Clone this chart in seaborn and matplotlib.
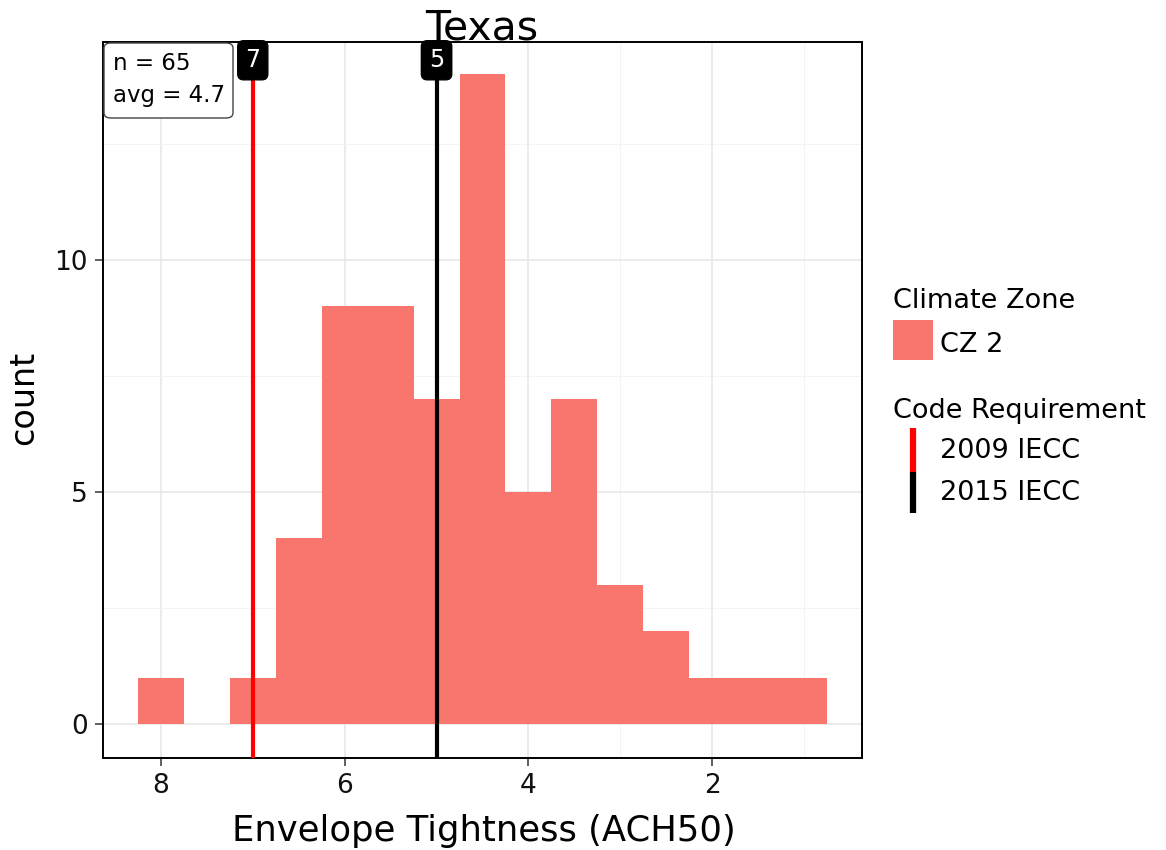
import matplotlib
matplotlib.use("Agg")

import pandas as pd
import matplotlib.pyplot as plt
import matplotlib.transforms as mtransforms
from matplotlib.patches import Rectangle, FancyBboxPatch
from matplotlib.lines import Line2D
import seaborn as sns

# histogram (bin centres, width 0.5)
bin_centers = [8.0, 7.5, 7.0, 6.5, 6.0, 5.5, 5.0, 4.5, 4.0, 3.5, 3.0, 2.5, 2.0, 1.5, 1.0]
counts = [1, 0, 1, 4, 9, 9, 7, 14, 5, 7, 3, 2, 1, 1, 1]
bin_width = 0.5

code_values = [7, 5]
code_labels = ["2009 IECC", "2015 IECC"]
code_colors = ["#FF0000", "#000000"]
zone_label = "CZ 2"
zone_color = "#F8766D"
n_homes = 65
avg_ach = 4.7

W, H = 1166, 850


def px(x, y):
    return x / W, 1 - y / H


sns.set_theme(style="white")
plt.rcParams["font.family"] = ["DejaVu Sans"]
plt.rcParams["text.color"] = "black"

fig = plt.figure(figsize=(W / 100, H / 100), dpi=100)
left, top = px(103, 42)
right, bottom = px(862, 758)
ax = fig.add_axes([left, bottom, right - left, top - bottom])

df = pd.DataFrame({"ach50": bin_centers, "count": counts})
lo = min(bin_centers) - bin_width / 2
hi = max(bin_centers) + bin_width / 2
sns.histplot(data=df, x="ach50", weights="count", binwidth=bin_width, binrange=(lo, hi),
             color=zone_color, alpha=1, linewidth=0, ax=ax, zorder=2)

ax.set_xlim(8.63, 0.37)
ax.set_ylim(-0.732, 14.69)
ax.set_xticks([8, 6, 4, 2])
ax.set_yticks([0, 5, 10])
ax.set_xticks([7, 5, 3, 1], minor=True)
ax.set_yticks([2.5, 7.5, 12.5], minor=True)
ax.grid(which="major", color="#E6E6E6", linewidth=1.1)
ax.grid(which="minor", color="#F2F2F2", linewidth=0.6)
ax.set_axisbelow(True)
ax.tick_params(which="major", length=6, width=1.1, color="#333333", labelsize=19,
               labelcolor="#111111", pad=5, bottom=True, left=True)
ax.tick_params(which="minor", length=0)
for s in ax.spines.values():
    s.set_color("black")
    s.set_linewidth(1.4)
ax.set_xlabel("")
ax.set_ylabel("")

# code requirement lines with value tags
trans = mtransforms.blended_transform_factory(ax.transData, ax.transAxes)
for v, c in zip(code_values, code_colors):
    ax.axvline(v, color=c, linewidth=3, zorder=3)
    ax.text(v, 0.9745, str(v), transform=trans, ha="center", va="center", color="white",
            fontsize=17, zorder=5,
            bbox=dict(boxstyle="round,pad=0.32,rounding_size=0.25", fc="black", ec="black"))

# n / avg box in the top left corner
bx0, by0 = px(104, 118)
bx1, by1 = px(233, 43)
fig.add_artist(FancyBboxPatch((bx0, by0), bx1 - bx0, by1 - by0, transform=fig.transFigure,
                              boxstyle="round,pad=0,rounding_size=0.006",
                              fc="white", ec="#444444", lw=1, zorder=4))
fig.text(*px(113, 70), f"n = {n_homes}", fontsize=16.5, ha="left", va="baseline", zorder=5)
fig.text(*px(113, 102), f"avg = {avg_ach}", fontsize=16.5, ha="left", va="baseline", zorder=5)

fig.text(*px(482, 40), "Texas", fontsize=29.5, ha="center", va="baseline")
fig.text(*px(484, 841), "Envelope Tightness (ACH50)", fontsize=25.5, ha="center", va="baseline")
fig.text(*px(24, 398), "count", fontsize=24, ha="center", va="center", rotation=90)

# legend drawn by hand
fig.text(*px(893, 308), "Climate Zone", fontsize=19.5, ha="left", va="baseline")
x0, y0 = px(893, 360)
x1, y1 = px(933, 320)
fig.add_artist(Rectangle((x0, y0), x1 - x0, y1 - y0, transform=fig.transFigure,
                         fc=zone_color, ec="none"))
fig.text(*px(940, 352), zone_label, fontsize=19.5, ha="left", va="baseline")

fig.text(*px(893, 418), "Code Requirement", fontsize=19.5, ha="left", va="baseline")
key_spans = [(428, 472), (472, 513)]
label_y = [458, 500]
for (ya, yb), c, lab, ly in zip(key_spans, code_colors, code_labels, label_y):
    xa, ya_f = px(913, ya)
    _, yb_f = px(913, yb)
    fig.add_artist(Line2D([xa, xa], [ya_f, yb_f], transform=fig.transFigure,
                          color=c, linewidth=4.5, solid_capstyle="butt"))
    fig.text(*px(940, ly), lab, fontsize=19.5, ha="left", va="baseline")

fig.savefig("out.png", dpi=100)
